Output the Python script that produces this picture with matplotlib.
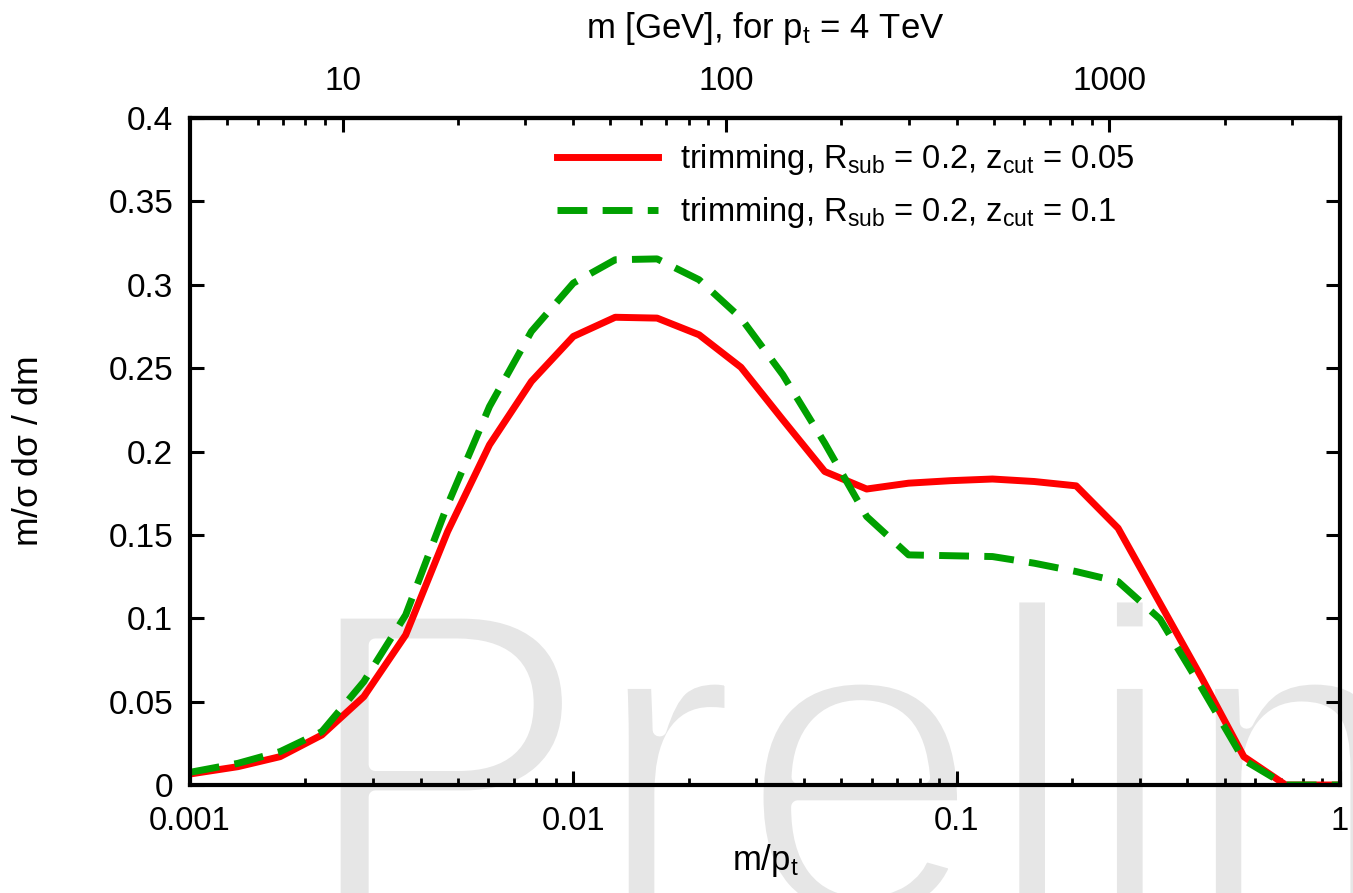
import matplotlib
matplotlib.use("Agg")
import matplotlib.pyplot as plt
import matplotlib.patheffects as pe
from matplotlib.ticker import LogLocator, NullFormatter

plt.rcParams['font.family'] = ['Liberation Sans', 'DejaVu Sans']
plt.rcParams['mathtext.fontset'] = 'custom'
plt.rcParams['mathtext.rm'] = 'Liberation Sans'
plt.rcParams['mathtext.it'] = 'Liberation Sans:italic'

# bin centres in m/pt
x = [0.001, 0.001334, 0.001718, 0.002208, 0.002841, 0.003653, 0.004699,
     0.006044, 0.007773, 0.01, 0.01286, 0.01654, 0.02128, 0.02737, 0.0352,
     0.04528, 0.05824, 0.0749, 0.09636, 0.124, 0.1594, 0.205, 0.2637,
     0.3392, 0.4363, 0.5612, 0.7219, 0.9286, 1.194]

# zcut = 0.05
trim_005 = [0.0066, 0.011, 0.017, 0.030, 0.053, 0.090, 0.152, 0.204, 0.242,
            0.269, 0.2805, 0.280, 0.270, 0.2505, 0.219, 0.188, 0.1775, 0.181,
            0.1825, 0.1835, 0.182, 0.1794, 0.154, 0.109, 0.064, 0.017, 0.0,
            0.0, 0.0]
# zcut = 0.1
trim_01 = [0.0076, 0.013, 0.020, 0.032, 0.062, 0.102, 0.168, 0.227, 0.272,
           0.301, 0.315, 0.3155, 0.303, 0.280, 0.246, 0.205, 0.161, 0.138,
           0.1375, 0.137, 0.133, 0.128, 0.122, 0.0995, 0.058, 0.015, 0.0,
           0.0, 0.0]

pt = 4000.0  # GeV

fig = plt.figure(figsize=(13.53, 8.93), dpi=100)
ax = fig.add_axes([190/1353, 1-785/893, 1150/1353, 667/893])
ax.set_facecolor('none')

# watermark (white outline thins the glyphs)
wm = fig.text(298/1353, 1-915/893, "Preliminary", fontsize=317, color='#e6e6e6',
              ha='left', va='baseline', zorder=-1)
wm.set_path_effects([pe.Stroke(linewidth=9.4, foreground='white')])

ax.plot(x, trim_005, color='#ff0000', lw=5,
        label=r'trimming, R$_\mathregular{sub}$ = 0.2, z$_\mathregular{cut}$ = 0.05')
ax.plot(x, trim_01, color='#00a000', lw=5, dashes=(4.3, 2.2), dash_capstyle='butt',
        label=r'trimming, R$_\mathregular{sub}$ = 0.2, z$_\mathregular{cut}$ = 0.1')

ax.set_xscale('log')
ax.set_xlim(0.001, 1)
ax.set_ylim(0, 0.4)
ax.set_xticks([0.001, 0.01, 0.1, 1])
ax.set_xticklabels(['0.001', '0.01', '0.1', '1'])
ax.xaxis.set_minor_locator(LogLocator(base=10, subs=range(2, 10)))
ax.xaxis.set_minor_formatter(NullFormatter())
ax.set_yticks([0, 0.05, 0.1, 0.15, 0.2, 0.25, 0.3, 0.35, 0.4])
ax.set_yticklabels(['0', '0.05', '0.1', '0.15', '0.2', '0.25', '0.3', '0.35', '0.4'])

for s in ax.spines.values():
    s.set_linewidth(3)
ax.tick_params(which='major', direction='in', length=10, width=2.2)
ax.tick_params(which='minor', direction='in', length=5, width=2)
ax.tick_params(axis='x', which='both', top=False, bottom=True, labelsize=23.5, pad=15)
ax.tick_params(axis='y', which='both', left=True, right=True, labelsize=24, pad=12)

top = ax.secondary_xaxis('top', functions=(lambda v: v*pt, lambda m: m/pt))
top.set_xticks([10, 100, 1000])
top.set_xticklabels(['10', '100', '1000'])
top.xaxis.set_minor_locator(LogLocator(base=10, subs=range(2, 10)))
top.xaxis.set_minor_formatter(NullFormatter())
top.tick_params(which='major', direction='in', length=10, width=2.2,
                labelsize=24, pad=15)
top.tick_params(which='minor', direction='in', length=5, width=2)
top.spines['top'].set_linewidth(3)
top.set_xlabel(r'm [GeV], for p$_\mathregular{t}$ = 4 TeV', fontsize=25, labelpad=20)

ax.set_xlabel(r'm/p$_\mathregular{t}$', fontsize=25, labelpad=4)
ax.set_ylabel(r'm/$\mathregular{\sigma}$ d$\mathregular{\sigma}$ / dm', fontsize=25.5, labelpad=46)

ax.legend(loc='upper left', bbox_to_anchor=(0.294, 1.008), frameon=False,
          fontsize=23.5, handlelength=3.07, handletextpad=0.67, labelspacing=0.55)

fig.savefig('out.png', dpi=100)
